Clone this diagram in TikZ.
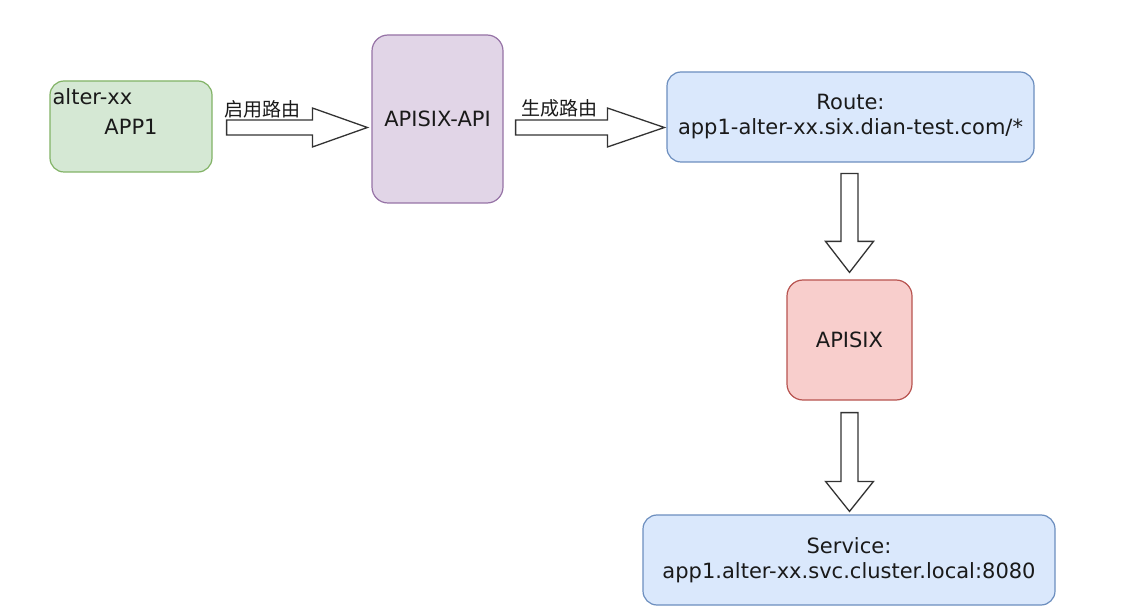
\documentclass[tikz,border=0pt]{standalone}
\usepackage{fontspec}
\setmainfont{DejaVu Sans}
\newfontfamily\cjk{Noto Sans CJK SC}
\usetikzlibrary{calc}
\definecolor{gfill}{HTML}{D5E8D4}\definecolor{gdraw}{HTML}{82B366}
\definecolor{pfill}{HTML}{E1D5E7}\definecolor{pdraw}{HTML}{9673A6}
\definecolor{bfill}{HTML}{DAE8FC}\definecolor{bdraw}{HTML}{6C8EBF}
\definecolor{rfill}{HTML}{F8CECC}\definecolor{rdraw}{HTML}{B85450}
\definecolor{txt}{HTML}{1A1A1A}
\definecolor{arr}{HTML}{333333}
\tikzset{
  box/.style={rectangle, rounded corners=14pt, line width=1.2pt, inner sep=0pt,
    align=center, text=txt, font=\fontsize{21}{25}\selectfont},
  greenbox/.style={box, fill=gfill, draw=gdraw},
  purplebox/.style={box, fill=pfill, draw=pdraw, rounded corners=16pt},
  bluebox/.style={box, fill=bfill, draw=bdraw},
  redbox/.style={box, fill=rfill, draw=rdraw, rounded corners=16pt},
  blockarrow/.style={draw=arr, fill=white, line width=1.3pt, line join=miter},
  cjklabel/.style={text=txt, inner sep=0pt, font=\cjk\fontsize{19}{22}\selectfont},
  plain/.style={text=txt, inner sep=0pt, font=\fontsize{21}{25}\selectfont}
}
\newcommand{\hblock}[5]{%
  \draw[blockarrow] let \p1=(#1), \p2=(#2) in
  (\x1,\y1+#3) -- (\x2-#5,\y1+#3) -- (\x2-#5,\y1+#4) -- (\x2,\y1) --
  (\x2-#5,\y1-#4) -- (\x2-#5,\y1-#3) -- (\x1,\y1-#3) -- cycle;}
\newcommand{\vblock}[5]{%
  \draw[blockarrow] let \p1=(#1), \p2=(#2) in
  (\x1-#3,\y1) -- (\x1-#3,\y2+#5) -- (\x1-#4,\y2+#5) -- (\x1,\y2) --
  (\x1+#4,\y2+#5) -- (\x1+#3,\y2+#5) -- (\x1+#3,\y1) -- cycle;}
\begin{document}
\begin{tikzpicture}[x=1pt,y=-1pt]
\useasboundingbox[fill=white] (0,0) rectangle (1133,612);
% boxes
\node[greenbox, minimum width=162pt, minimum height=91pt] (app) at (131,126.5) {\raisebox{-5pt}{APP1}};
\node[plain, anchor=base west] (alt) at ($(app.north west)+(3,24)$) {alter-xx};
\node[purplebox, minimum width=131pt, minimum height=168pt] (api) at (437.5,119) {APISIX-API};
\node[bluebox, minimum width=367pt, minimum height=90pt] (route) at (850.5,117) {Route:\\app1-alter-xx.six.dian-test.com/*};
\node[redbox, minimum width=125pt, minimum height=120pt] (apisix) at (849.5,340) {APISIX};
\node[bluebox, minimum width=412pt, minimum height=90pt] (svc) at (849,560) {Service:\\app1.alter-xx.svc.cluster.local:8080};
% arrow endpoints
\coordinate (a1s) at ($(app.east)+(14,1)$);
\coordinate (a1e) at ($(api.west)+(-4,8.5)$);
\coordinate (a2s) at ($(api.east)+(12,8.5)$);
\coordinate (a2e) at ($(route.west)+(-2,10.5)$);
\coordinate (a3s) at ($(route.south)+(-1,11)$);
\coordinate (a3e) at ($(apisix.north)+(0,-7)$);
\coordinate (a4s) at ($(apisix.south)+(0,12)$);
\coordinate (a4e) at ($(svc.north)+(0,-3)$);
% block arrows
\hblock{a1s}{a1e}{7.5pt}{19.5pt}{55pt}
\hblock{a2s}{a2e}{7.5pt}{19.5pt}{57pt}
\vblock{a3s}{a3e}{8.5pt}{24pt}{31pt}
\vblock{a4s}{a4e}{8.5pt}{24pt}{30pt}
% labels
\node[cjklabel] (l1) at ($(a1s)+(36,-18.5)$) {启用路由};
\node[cjklabel] (l2) at ($(a2s)+(44,-19.5)$) {生成路由};
\end{tikzpicture}
\end{document}
